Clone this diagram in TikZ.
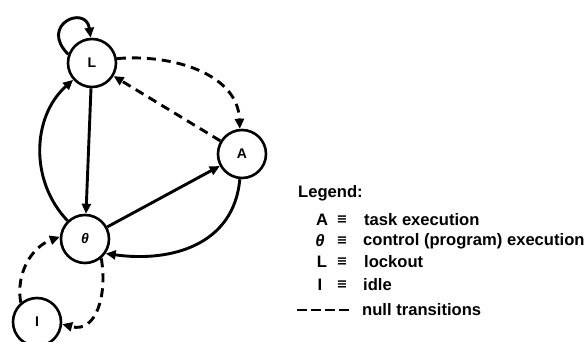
\documentclass[tikz,border=0pt]{standalone}
\usepackage{fontspec}
\setmainfont{Liberation Sans}
\newfontfamily\symfont{DejaVu Sans}
\usetikzlibrary{arrows.meta}
\begin{document}
\begin{tikzpicture}[x=1pt,y=1pt,
  state/.style={circle,draw,line width=2.6pt,minimum size=48pt,inner sep=0pt,font=\fontsize{14}{14}\selectfont\bfseries},
  edge/.style={line width=2.9pt,-{Triangle[length=10pt,width=9pt]}},
  nulledge/.style={edge,dash pattern=on 9pt off 6pt},
  legtext/.style={anchor=west,font=\fontsize{16.6}{16.6}\selectfont\bfseries,inner sep=0pt},
  legsym/.style={font=\fontsize{16.6}{16.6}\selectfont\bfseries,inner sep=0pt},
  legeq/.style={font=\fontsize{13}{13}\selectfont\symfont\bfseries,inner sep=0pt}
]
\useasboundingbox (0,0) rectangle (587,342);
\node[state] (L) at (92,279) {L};
\node[state] (A) at (242,188) {A};
\node[state] (T) at (85,103) {\itshape θ};
\node[state] (I) at (37,20) {I};

\draw[edge] (L.160) .. controls +(135:42) and +(98:34) .. (L.93);
\draw[edge] (L) -- (T);
\draw[edge] (T) to[bend left=46] (L);
\draw[edge] (T) -- (A);
\draw[edge] (A.-95) to[out=-95,in=-8,looseness=1.1] (T.-35);

\draw[nulledge] (L.10) to[out=5,in=92] (A.95);
\draw[nulledge] (A) -- (L);
\draw[nulledge] (I.130) to[out=100,in=200] (T.175);
\draw[nulledge] (T.-50) to[out=-80,in=-15,looseness=1.2] (I.-5);

\node[legtext] (leg) at (298,149) {Legend:};
\node[legsym] (sA) at (322,122) {A};
\node[legeq] (eA) at (342,122) {≡};
\node[legtext] (tA) at (364,122) {task execution};
\node[legsym] (sT) at (320,101) {\itshape θ};
\node[legeq] (eT) at (342,101) {≡};
\node[legtext] (tT) at (363,101) {control (program) execution};
\node[legsym] (sL) at (322,80) {L};
\node[legeq] (eL) at (342,80) {≡};
\node[legtext] (tL) at (364,80) {lockout};
\node[legsym] (sI) at (320,57) {I};
\node[legeq] (eI) at (342,57) {≡};
\node[legtext] (tI) at (363,57) {idle};
\coordinate (d1) at (297,32);
\coordinate (d2) at (350,32);
\draw[line width=2.9pt,dash pattern=on 10pt off 4pt] (d1) -- (d2);
\node[legtext] (tN) at (362,32) {null transitions};
\end{tikzpicture}
\end{document}
